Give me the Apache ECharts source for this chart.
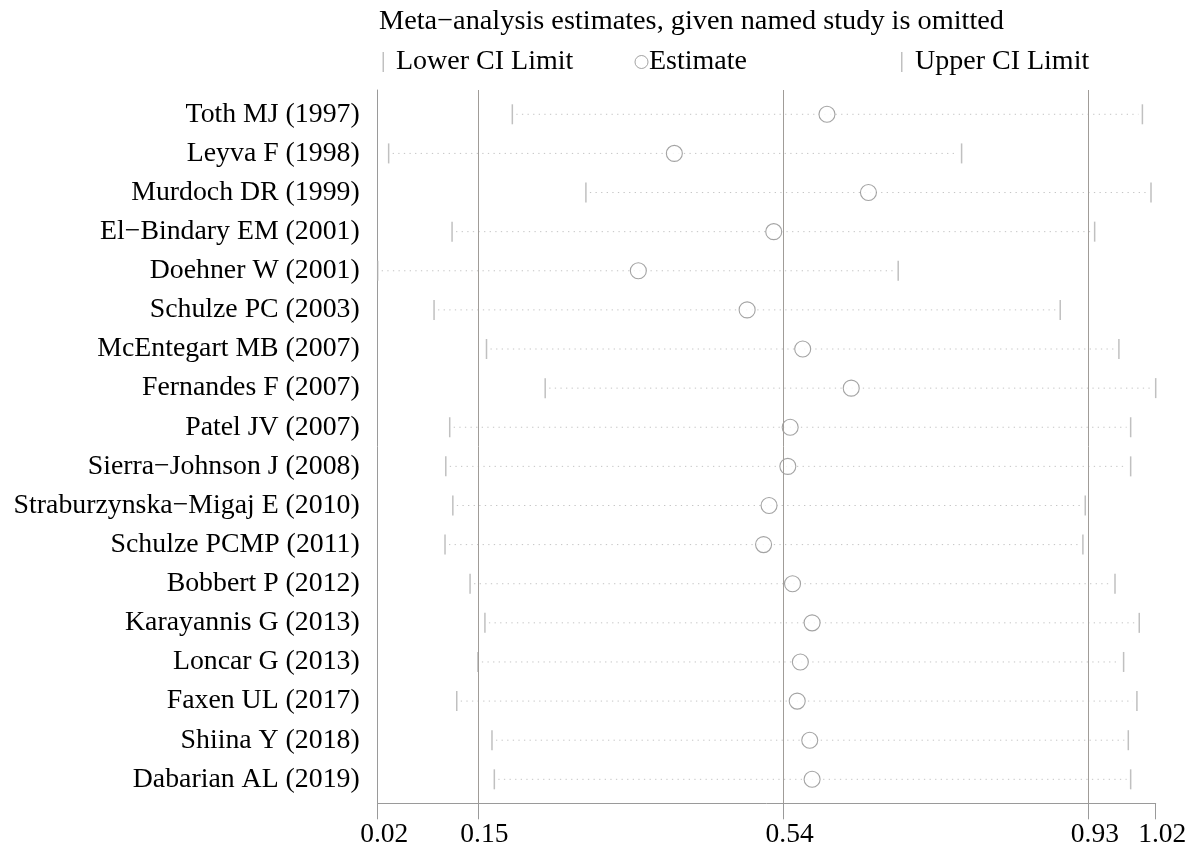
<!DOCTYPE html>
<html>
<head>
<meta charset="utf-8">
<script src="https://cdn.jsdelivr.net/npm/echarts@6/dist/echarts.min.js"></script>
<style>
html,body{margin:0;padding:0;background:#fff;}
#chart{width:1200px;height:859px;}
</style>
</head>
<body>
<div id="chart"></div>
<script>
const studies = [
  "Toth MJ (1997)", "Leyva F (1998)", "Murdoch DR (1999)", "El\u2212Bindary EM (2001)",
  "Doehner W (2001)", "Schulze PC (2003)", "McEntegart MB (2007)", "Fernandes F (2007)",
  "Patel JV (2007)", "Sierra\u2212Johnson J (2008)", "Straburzynska\u2212Migaj E (2010)",
  "Schulze PCMP (2011)", "Bobbert P (2012)", "Karayannis G (2013)", "Loncar G (2013)",
  "Faxen UL (2017)", "Shiina Y (2018)", "Dabarian AL (2019)"
];
const lowerCI = [0.194, 0.036, 0.288, 0.117, 0.022, 0.094, 0.161, 0.236, 0.114, 0.109,
                 0.118, 0.108, 0.140, 0.159, 0.150, 0.123, 0.168, 0.171];
const estimate = [0.596, 0.401, 0.649, 0.528, 0.355, 0.494, 0.565, 0.627, 0.549, 0.546,
                  0.522, 0.515, 0.552, 0.577, 0.562, 0.558, 0.574, 0.577];
const upperCI = [0.999, 0.768, 1.010, 0.938, 0.687, 0.894, 0.969, 1.016, 0.984, 0.984,
                 0.926, 0.923, 0.964, 0.995, 0.975, 0.992, 0.981, 0.984];
const refLines = [0.15, 0.54, 0.93];
const xTickValues = [0.022, 0.15, 0.54, 0.93, 1.016];
const xTickLabels = ["0.02", "0.15", "0.54", "0.93", "1.02"];
const titleText = "Meta\u2212analysis estimates, given named study is omitted";
const legendNames = ["Lower CI Limit", "Estimate", "Upper CI Limit"];

const FONT = "'Liberation Serif', 'Times New Roman', serif";
const rowIdx = studies.map((s, i) => i);
const xMin = Math.min(...lowerCI);
const xMax = Math.max(...upperCI);

const chart = echarts.init(document.getElementById('chart'), null, {renderer: 'canvas'});
const textBase = {fontFamily: FONT, fontSize: 28, color: '#000', fontWeight: 'normal'};

const option = {
  backgroundColor: '#fff',
  animation: false,
  title: {
    text: titleText, left: 379, top: 8, padding: 0,
    textStyle: Object.assign({}, textBase, {fontSize: 28.3})
  },
  legend: [
    {data: [legendNames[0]], left: 382.5, top: 48, padding: 0, icon: 'rect',
     itemWidth: 1.5, itemHeight: 20, itemStyle: {color: '#b0b0b0'},
     textStyle: Object.assign({}, textBase, {padding: [0, 0, 0, 7]}), selectedMode: false},
    {data: [legendNames[1]], left: 634.5, top: 48, padding: 0, icon: 'circle',
     itemWidth: 13, itemHeight: 13, itemStyle: {color: '#fff', borderColor: '#8c8c8c', borderWidth: 1},
     textStyle: Object.assign({}, textBase, {padding: [0, 0, 0, -4]}), selectedMode: false},
    {data: [legendNames[2]], left: 901, top: 48, padding: 0, icon: 'rect',
     itemWidth: 1.5, itemHeight: 20, itemStyle: {color: '#b0b0b0'},
     textStyle: Object.assign({}, textBase, {padding: [0, 0, 0, 7.5]}), selectedMode: false}
  ],
  grid: {left: 377.7, right: 44.3, top: 90, bottom: 55.7, containLabel: false},
  xAxis: {
    type: 'value', min: xMin, max: xMax,
    axisLine: {show: true, onZero: false, lineStyle: {color: '#9a9a9a', width: 1}},
    axisTick: {show: true, customValues: xTickValues, length: 16, lineStyle: {color: '#9a9a9a', width: 1}},
    axisLabel: {
      customValues: xTickValues, margin: 17, padding: [0, 0, 0, 13],
      fontFamily: FONT, fontSize: 27.5, color: '#000',
      formatter: function (v) {
        const i = xTickValues.findIndex(t => Math.abs(t - v) < 1e-9);
        return i >= 0 ? xTickLabels[i] : '';
      }
    },
    splitLine: {show: false}
  },
  yAxis: {
    type: 'value', inverse: true, min: -0.621, max: 17.613,
    axisLine: {show: true, onZero: false, lineStyle: {color: '#9a9a9a', width: 1}},
    axisTick: {show: false},
    axisLabel: {
      customValues: rowIdx, margin: 18,
      fontFamily: FONT, fontSize: 27.8, color: '#000',
      formatter: function (v) { return studies[Math.round(v)] || ''; }
    },
    splitLine: {show: false}
  },
  series: [
    {
      type: 'custom', name: 'ci', silent: true,
      data: rowIdx.map(i => [lowerCI[i], upperCI[i], i]),
      encode: {x: [0, 1], y: 2},
      renderItem: function (params, api) {
        const p1 = api.coord([api.value(0), api.value(2)]);
        const p2 = api.coord([api.value(1), api.value(2)]);
        return {
          type: 'line',
          shape: {x1: p1[0] + 4, y1: p1[1], x2: p2[0] - 4, y2: p2[1]},
          style: {stroke: '#c4c4c4', lineWidth: 1, lineDash: [1.3, 4.3]}
        };
      },
      markLine: {
        silent: true, symbol: 'none', label: {show: false},
        lineStyle: {color: '#a09c98', width: 1, type: 'solid'},
        data: refLines.map(v => ({xAxis: v}))
      },
      z: 1
    },
    {
      type: 'scatter', name: legendNames[0],
      symbol: 'rect', symbolSize: [1.5, 20],
      itemStyle: {color: '#b0b0b0'},
      data: rowIdx.map(i => [lowerCI[i], i]), z: 3
    },
    {
      type: 'scatter', name: legendNames[2],
      symbol: 'rect', symbolSize: [1.5, 20],
      itemStyle: {color: '#b0b0b0'},
      data: rowIdx.map(i => [upperCI[i], i]), z: 3
    },
    {
      type: 'scatter', name: legendNames[1],
      symbol: 'circle', symbolSize: 16,
      itemStyle: {color: '#fff', borderColor: '#8c8c8c', borderWidth: 1.1},
      data: rowIdx.map(i => [estimate[i], i]), z: 4
    }
  ]
};
chart.setOption(option);
</script>
</body>
</html>
